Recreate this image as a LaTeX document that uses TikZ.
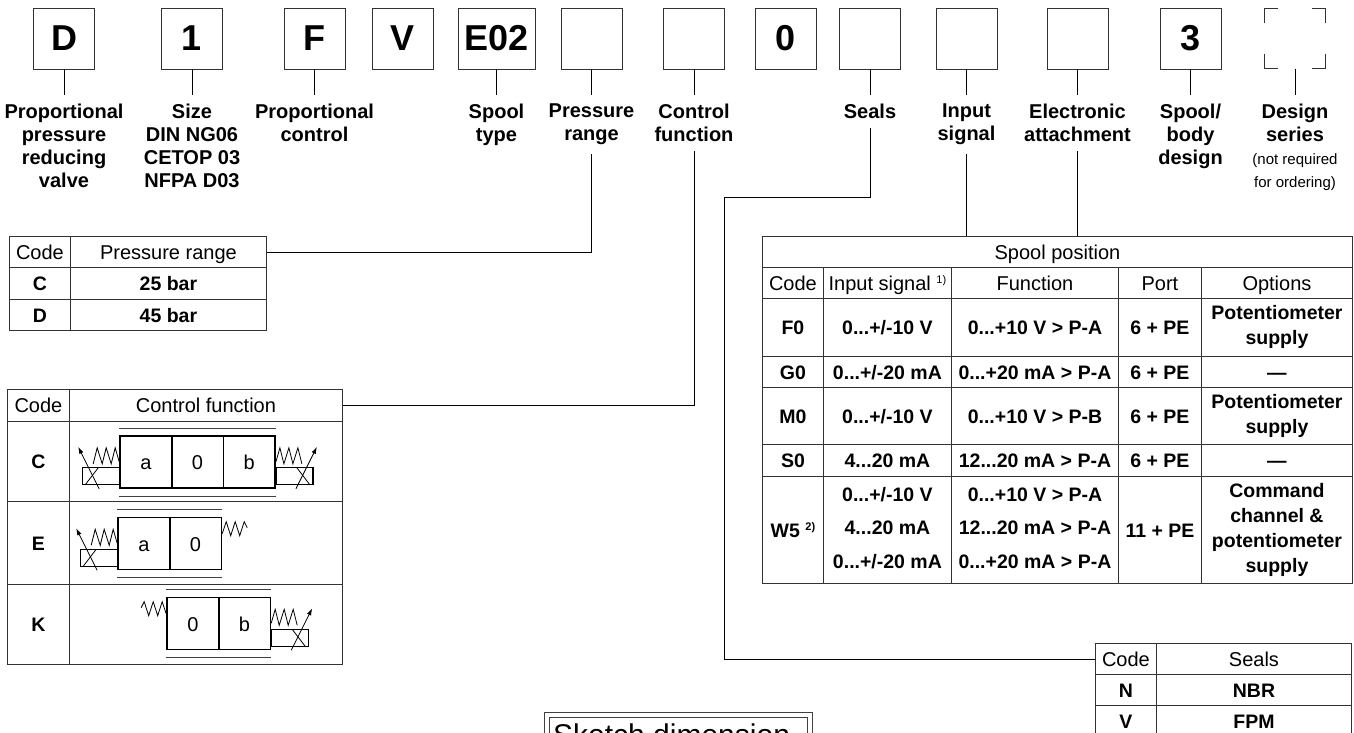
\documentclass[tikz,border=0pt]{standalone}
\usepackage{fontspec}
\setmainfont{Liberation Sans}
\usetikzlibrary{arrows.meta}

\newcommand{\lblfont}{\fontsize{20}{23}\selectfont\bfseries}
\newcommand{\notefont}{\fontsize{15}{23}\selectfont\mdseries}
\newcommand{\tabfont}{\fontsize{20}{25}\selectfont}
\newcommand{\tabbold}{\fontsize{19.5}{25}\selectfont\bfseries}
\newcommand{\supnote}[1]{\raisebox{7pt}{\fontsize{11}{11}\selectfont #1}}
\newcommand{\cellstrut}{\rule[-4.5pt]{0pt}{23.6pt}}

\begin{document}
\begin{tikzpicture}[x=1pt, y=-1pt,
    codebox/.style={draw=black!80, line width=0.9pt, minimum width=61pt,
      minimum height=61pt, inner sep=0pt, font=\fontsize{36}{36}\selectfont\bfseries},
    lbl/.style={anchor=north, align=center, inner xsep=0pt, inner ysep=9pt, font=\lblfont},
    cell/.style 2 args={draw=black!80, line width=0.9pt, anchor=north west,
      inner sep=0pt, align=center, minimum width=#1, minimum height=#2, font=\tabfont,
      execute at begin node=\cellstrut},
    bcell/.style 2 args={cell={#1}{#2}, font=\tabbold},
    link/.style={line width=0.8pt},
    spoolbox/.style={draw, line width=1.6pt, minimum width=51.7pt, minimum height=52pt,
      inner sep=0pt, text height=15pt, text depth=0pt, font=\fontsize{20}{20}\selectfont},
    rail/.style={line width=0.6pt, black!75},
    sym/.style={line width=0.8pt},
    solenoid/.pic={
      \draw[line width=1.2pt] (-37,-21) rectangle (0,-4);
      \draw[sym] (-34,-4) -- (-21,-21);
      \draw[sym, -{Latex[length=7pt,width=4.5pt]}] (-20,0) -- (-41,-42);
      \draw[sym] (-26,-25) -- (-22,-41) -- (-17,-25) -- (-13,-41) -- (-8,-25) -- (-4,-41) -- (0,-27);
    },
    freespring/.pic={
      \draw[sym] (0,17) -- (4,5) -- (8.5,19) -- (13,5) -- (17.5,19) -- (22,5) -- (25,11);
    }]

\useasboundingbox (0,0) rectangle (1354,733);

% type code boxes
\node[codebox] (bD) at (64,38.5) {D};
\node[codebox] (b1) at (192,38.5) {1};
\node[codebox] (bF) at (314.5,38.5) {F};
\node[codebox] (bV) at (403,38.5) {V};
\node[codebox, minimum width=77pt] (bE02) at (496.5,38.5) {E02};
\node[codebox] (bP) at (591.5,38.5) {};
\node[codebox] (bC) at (694,38.5) {};
\node[codebox] (b0) at (786,38.5) {0};
\node[codebox] (bS) at (870,38.5) {};
\node[codebox] (bI) at (966.5,38.5) {};
\node[codebox] (bE) at (1077.5,38.5) {};
\node[codebox] (b3) at (1190.5,38.5) {3};
\node[minimum width=60pt, minimum height=60pt, inner sep=0pt] (bDs) at (1295,38.5) {};

% open corners of the last box
\draw[black!80, line width=0.9pt] (bDs.north west) ++(0,15) -- (bDs.north west) -- ++(13,0);
\draw[black!80, line width=0.9pt] (bDs.north east) ++(0,15) -- (bDs.north east) -- ++(-13,0);
\draw[black!80, line width=0.9pt] (bDs.south west) ++(0,-15) -- (bDs.south west) -- ++(13,0);
\draw[black!80, line width=0.9pt] (bDs.south east) ++(0,-15) -- (bDs.south east) -- ++(-13,0);

% labels
\node[lbl] (lD) at (64,95) {Proportional\\pressure\\reducing\\valve};
\node[lbl] (l1) at (192,95) {Size\\DIN NG06\\CETOP 03\\NFPA D03};
\node[lbl] (lF) at (314.5,95) {Proportional\\control};
\node[lbl] (lE02) at (496.5,95) {Spool\\type};
\node[lbl] (lP) at (591.5,95) {Pressure\\range};
\node[lbl] (lC) at (694,95) {Control\\function};
\node[lbl] (lS) at (870,95) {Seals};
\node[lbl] (lI) at (966.5,95) {Input\\signal};
\node[lbl] (lE) at (1077.5,95) {Electronic\\attachment};
\node[lbl] (l3) at (1190.5,95) {Spool/\\body\\design};
\node[lbl] (lDs) at (1295,95) {Design\\series\\{\notefont (not required}\\{\notefont for ordering)}};

\foreach \n in {D,1,F,E02,P,C,S,I,E,3,Ds}
  \draw[link] (b\n) -- (l\n);

% pressure range
\node[cell={61pt}{31pt}] (pc0) at (9,236) {Code};
\node[cell={196pt}{31pt}] (pr0) at (70,236) {Pressure range};
\node[bcell={61pt}{32pt}] (pc1) at (9,267) {C};
\node[bcell={196pt}{32pt}] (pr1) at (70,267) {25 bar};
\node[bcell={61pt}{31pt}] (pc2) at (9,299) {D};
\node[bcell={196pt}{31pt}] (pr2) at (70,299) {45 bar};
\draw[link] (lP) |- (pr0.east);

% control function
\node[cell={62pt}{32pt}] (cc0) at (7,389) {Code};
\node[cell={273pt}{32pt}] (cf0) at (69,389) {Control function};
\node[bcell={62pt}{80pt}] (cc1) at (7,421) {C};
\node[cell={273pt}{80pt}] (cf1) at (69,421) {};
\node[bcell={62pt}{83pt}] (cc2) at (7,501) {E};
\node[cell={273pt}{83pt}] (cf2) at (69,501) {};
\node[bcell={62pt}{80pt}] (cc3) at (7,584) {K};
\node[cell={273pt}{80pt}] (cf3) at (69,584) {};
\draw[link] (lC) |- (cf0.east);

% C: a 0 b
\node[spoolbox] (cA) at (145.85,462) {a};
\node[spoolbox] (cZ) at (197.55,462) {0};
\node[spoolbox] (cB) at (249.25,462) {b};
\draw[rail] ([yshift=7pt]cA.north west) -- ([yshift=7pt]cB.north east);
\draw[rail] ([yshift=-7pt]cA.south west) -- ([yshift=-7pt]cB.south east);
\pic at (cA.south west) {solenoid};
\pic[xscale=-1] at (cB.south east) {solenoid};

% E: a 0
\node[spoolbox] (eA) at (143.85,543.5) {a};
\node[spoolbox] (eZ) at (195.55,543.5) {0};
\draw[rail] ([yshift=7pt]eA.north west) -- ([yshift=7pt]eZ.north east);
\draw[rail] ([yshift=-7pt]eA.south west) -- ([yshift=-7pt]eZ.south east);
\pic at (eA.south west) {solenoid};
\pic at (eZ.north east) {freespring};

% K: 0 b
\node[spoolbox] (kZ) at (192.85,623.5) {0};
\node[spoolbox] (kB) at (244.55,623.5) {b};
\draw[rail] ([yshift=7pt]kZ.north west) -- ([yshift=7pt]kB.north east);
\draw[rail] ([yshift=-7pt]kZ.south west) -- ([yshift=-7pt]kB.south east);
\pic[xscale=-1] at (kZ.north west) {freespring};
\pic[xscale=-1] at (kB.south east) {solenoid};

% spool position
\node[cell={590pt}{31pt}] (sp0) at (762,236) {Spool position};
\node[cell={61pt}{31pt}] (sh1) at (762,267) {Code};
\node[cell={128pt}{31pt}] (sh2) at (823,267) {Input signal \supnote{1)}};
\node[cell={167pt}{31pt}] (sh3) at (951,267) {Function};
\node[cell={83pt}{31pt}] (sh4) at (1118,267) {Port};
\node[cell={151pt}{31pt}] (sh5) at (1201,267) {Options};

\node[bcell={61pt}{58pt}] (f1) at (762,298) {F0};
\node[bcell={128pt}{58pt}] (f2) at (823,298) {0...+/-10 V};
\node[bcell={167pt}{58pt}] (f3) at (951,298) {0...+10 V > P-A};
\node[bcell={83pt}{58pt}] (f4) at (1118,298) {6 + PE};
\node[bcell={151pt}{58pt}] (f5) at (1201,298) {Potentiometer\\supply};

\node[bcell={61pt}{31pt}] (g1) at (762,356) {G0};
\node[bcell={128pt}{31pt}] (g2) at (823,356) {0...+/-20 mA};
\node[bcell={167pt}{31pt}] (g3) at (951,356) {0...+20 mA > P-A};
\node[bcell={83pt}{31pt}] (g4) at (1118,356) {6 + PE};
\node[bcell={151pt}{31pt}] (g5) at (1201,356) {\textemdash};

\node[bcell={61pt}{57pt}] (m1) at (762,387) {M0};
\node[bcell={128pt}{57pt}] (m2) at (823,387) {0...+/-10 V};
\node[bcell={167pt}{57pt}] (m3) at (951,387) {0...+10 V > P-B};
\node[bcell={83pt}{57pt}] (m4) at (1118,387) {6 + PE};
\node[bcell={151pt}{57pt}] (m5) at (1201,387) {Potentiometer\\supply};

\node[bcell={61pt}{32pt}] (s1) at (762,444) {S0};
\node[bcell={128pt}{32pt}] (s2) at (823,444) {4...20 mA};
\node[bcell={167pt}{32pt}] (s3) at (951,444) {12...20 mA > P-A};
\node[bcell={83pt}{32pt}] (s4) at (1118,444) {6 + PE};
\node[bcell={151pt}{32pt}] (s5) at (1201,444) {\textemdash};

\node[bcell={61pt}{107pt}] (w1) at (762,476) {W5 \supnote{2)}};
\node[bcell={128pt}{107pt}] (w2) at (823,476) {0...+/-10 V\\[8.5pt]4...20 mA\\[8.5pt]0...+/-20 mA};
\node[bcell={167pt}{107pt}] (w3) at (951,476) {0...+10 V > P-A\\[8.5pt]12...20 mA > P-A\\[8.5pt]0...+20 mA > P-A};
\node[bcell={83pt}{107pt}] (w4) at (1118,476) {11 + PE};
\node[bcell={151pt}{107pt}] (w5) at (1201,476) {Command\\channel \&\\potentiometer\\supply};

\draw[link] (lI) -- (lI |- sp0.north);
\draw[link] (lE) -- (lE |- sp0.north);

% seals
\node[cell={61pt}{31pt}] (sc0) at (1095,643) {Code};
\node[cell={195pt}{31pt}] (ss0) at (1156,643) {Seals};
\node[bcell={61pt}{31pt}] (sc1) at (1095,674) {N};
\node[bcell={195pt}{31pt}] (ss1) at (1156,674) {NBR};
\node[bcell={61pt}{31pt}] (sc2) at (1095,705) {V};
\node[bcell={195pt}{31pt}] (ss2) at (1156,705) {FPM};
\draw[link] (lS) |- (724,197) |- (sc0.west);

% sketch box, cut by the page edge
\draw[black!75, line width=0.8pt] (544,712) rectangle (812,760);
\draw[black!75, line width=0.8pt] (549,717) rectangle (807,760);
\node[anchor=base west, inner sep=0pt, font=\fontsize{30}{30}\selectfont] (sketch) at (553,745) {Sketch dimension};

\end{tikzpicture}
\end{document}
